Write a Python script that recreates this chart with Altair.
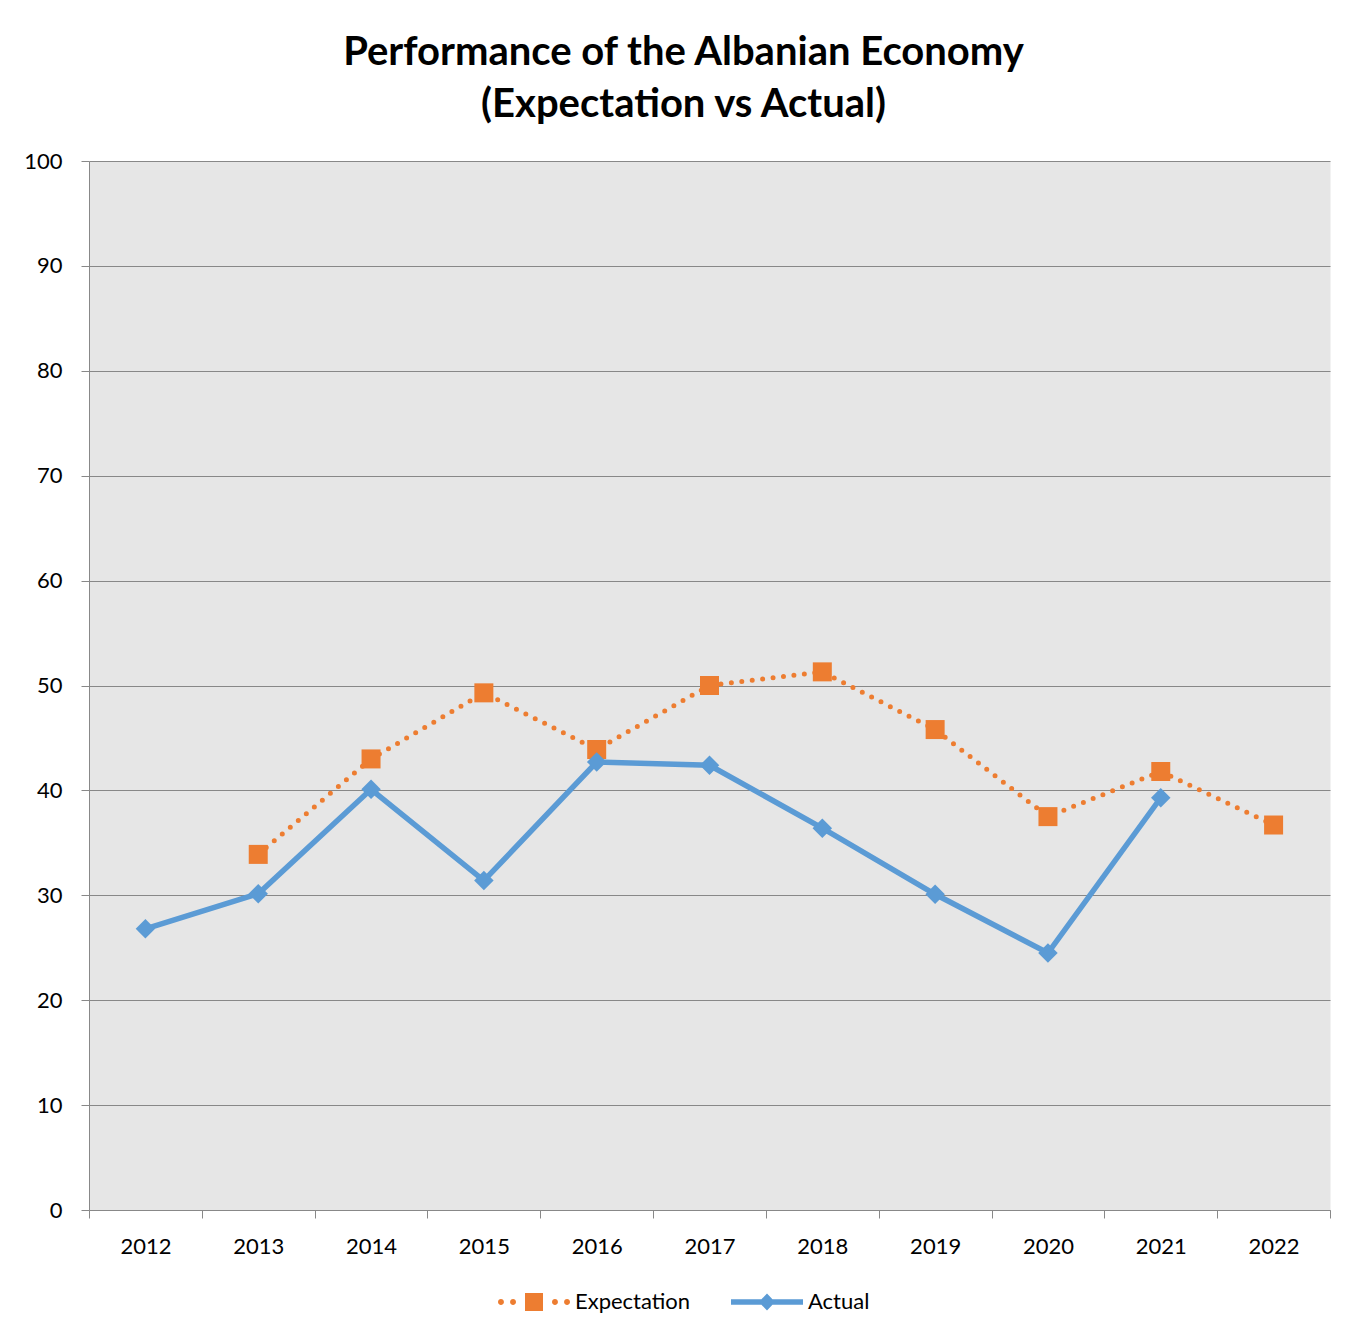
import altair as alt
import pandas as pd

years = ["2012", "2013", "2014", "2015", "2016", "2017", "2018", "2019", "2020", "2021", "2022"]
expectation = [None, 33.9, 43.0, 49.3, 43.9, 50.0, 51.3, 45.8, 37.5, 41.8, 36.7]
actual = [26.8, 30.15, 40.1, 31.4, 42.7, 42.4, 36.4, 30.1, 24.5, 39.3, None]
series_names = ["Expectation", "Actual"]
series_colors = ["#ED7D31", "#5B9BD5"]

rows = []
for name, vals in zip(series_names, [expectation, actual]):
    for yr, v in zip(years, vals):
        if v is not None:
            rows.append({"year": yr, "value": v, "series": name})
df = pd.DataFrame(rows)

FONT = "Lato"

x_enc = alt.X(
    "year:O",
    sort=years,
    bandPosition=0.5,
    scale=alt.Scale(type="band", domain=years, paddingInner=0, paddingOuter=0),
    axis=alt.Axis(
        title=None, tickBand="extent", grid=False, labelAngle=0,
        labelFont=FONT, labelFontSize=22, labelColor="black", labelPadding=18,
        tickSize=8, tickColor="#888888", domainColor="#888888",
    ),
)
y_enc = alt.Y(
    "value:Q",
    scale=alt.Scale(domain=[0, 100], nice=False, zero=True),
    axis=alt.Axis(
        title=None, values=list(range(0, 101, 10)), grid=True,
        gridColor="#888888", gridWidth=1, labelFont=FONT, labelFontSize=22,
        labelColor="black", labelPadding=19, tickSize=8, tickColor="#888888",
        domainColor="#888888",
    ),
)

base = alt.Chart(df).encode(x=x_enc, y=y_enc)

exp_line = base.transform_filter(alt.datum.series == "Expectation").mark_line(
    color=series_colors[0], strokeWidth=5, strokeDash=[0, 10.5], strokeCap="round"
)
act_line = base.transform_filter(alt.datum.series == "Actual").mark_line(
    color=series_colors[1], strokeWidth=5.5
)
exp_pts = base.transform_filter(alt.datum.series == "Expectation").mark_point(
    shape="square", filled=True, size=361, color=series_colors[0], opacity=1
)
act_pts = base.transform_filter(alt.datum.series == "Actual").mark_point(
    shape="diamond", filled=True, size=380, color=series_colors[1], opacity=1
)

def circle(cx, r):
    return f"M{cx - r},0 A{r},{r} 0 1 0 {cx + r},0 A{r},{r} 0 1 0 {cx - r},0 Z "

exp_symbol = (
    circle(-3.67, 0.33) + circle(-2.33, 0.33)
    + "M-1,-1 L1,-1 L1,1 L-1,1 Z "
    + circle(2.33, 0.33) + circle(3.67, 0.33)
)
act_symbol = "M-4,-0.3 L4,-0.3 L4,0.3 L-4,0.3 Z M0,-0.95 L0.9,0 L0,0.95 L-0.9,0 Z"

legend_opts = dict(
    title=None, orient="none", direction="horizontal",
    legendX=434, legendY=1130, symbolSize=324, symbolStrokeWidth=0,
    labelOffset=30, columnPadding=40, labelFont=FONT, labelFontSize=22,
    labelColor="black", symbolOpacity=1, padding=0,
)

legend_layer = alt.Chart(df).transform_filter("false").mark_point(
    filled=True, opacity=1
).encode(
    color=alt.Color(
        "series:N",
        scale=alt.Scale(domain=series_names, range=series_colors),
        sort=series_names,
        legend=alt.Legend(**legend_opts),
    ),
    shape=alt.Shape(
        "series:N",
        scale=alt.Scale(domain=series_names, range=[exp_symbol, act_symbol]),
        sort=series_names,
        legend=alt.Legend(**legend_opts),
    ),
)

chart = alt.layer(exp_line, act_line, exp_pts, act_pts, legend_layer).properties(
    width=1241,
    height=1049,
    background="white",
    view=alt.ViewBackground(fill="#E6E6E6", stroke="transparent"),
    autosize=alt.AutoSizeParams(type="none"),
    padding={"left": 81, "top": 153, "right": 28, "bottom": 112},
    title=alt.Title(
        ["Performance of the Albanian Economy", "(Expectation vs Actual)"],
        font=FONT, fontSize=40, fontWeight="bold", color="black",
        anchor="middle", frame="group", dx=-26, offset=25, lineHeight=52,
    ),
).configure_view(
    fill="#E6E6E6", stroke="transparent"
)

chart.save("out.html", embed_options={"renderer": "svg", "actions": False})
